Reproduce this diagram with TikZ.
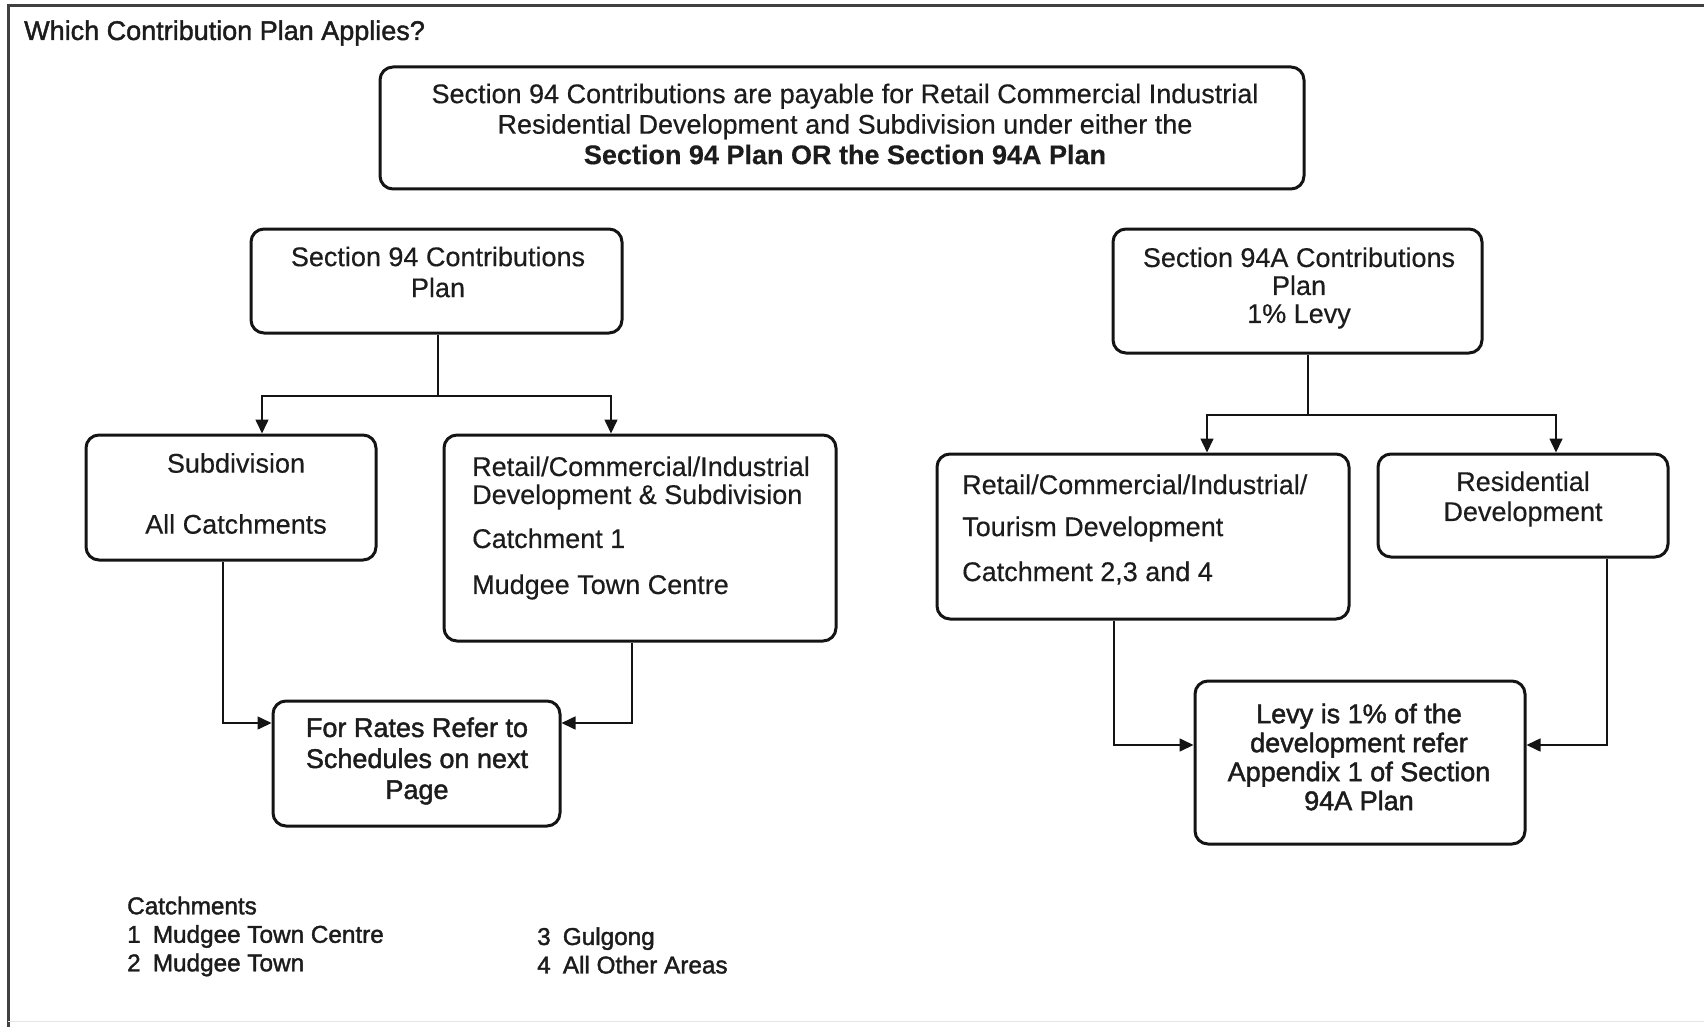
\documentclass[tikz,border=0pt]{standalone}
\usepackage{fontspec}
\setmainfont{Liberation Sans}[FakeBold=0.4]
\newfontfamily\medfont[FakeBold=1.6]{Liberation Sans}
\usetikzlibrary{arrows.meta}
\definecolor{ink}{HTML}{1C1C1C}
\tikzset{
  box/.style={draw=black!92, line width=3pt, rounded corners=13pt, inner sep=0pt, fill=white},
  txt/.style={inner sep=0pt, text=ink, font=\fontsize{27}{28}\selectfont},
  conn/.style={line width=1.6pt, draw=black!92},
  arr/.style={conn, -{Triangle[length=14pt,width=13pt]}},
}
\begin{document}
\begin{tikzpicture}[x=1pt,y=-1pt]
\useasboundingbox (0,0) rectangle (1704,1027);
% frame
\draw[line width=3pt, black!75] (8,1027) -- (8,6) -- (1704,6);
\draw[line width=1pt, black!10] (8,1021) -- (1704,1021);

\node[txt, anchor=west, font=\fontsize{27}{28}\medfont] (title) at (24,33) {Which Contribution Plan Applies?};

% boxes
\node[box, minimum width=924pt, minimum height=122pt] (top) at (842,128) {};
\node[box, minimum width=371pt, minimum height=104pt] (s94) at (436.5,281) {};
\node[box, minimum width=369pt, minimum height=124pt] (s94a) at (1297.5,291) {};
\node[box, minimum width=290pt, minimum height=125pt] (sub) at (231,497.5) {};
\node[box, minimum width=392pt, minimum height=206pt] (ret) at (640,538) {};
\node[box, minimum width=287pt, minimum height=125pt] (rates) at (416.5,763.5) {};
\node[box, minimum width=412pt, minimum height=165pt] (rt) at (1143,536.5) {};
\node[box, minimum width=290pt, minimum height=103pt] (res) at (1523,505.5) {};
\node[box, minimum width=330pt, minimum height=163pt] (levy) at (1360,762.5) {};

% texts
\node[txt, align=center, font=\fontsize{27}{30.5}\selectfont] (top-t) at (845,124)
  {Section 94 Contributions are payable for Retail Commercial Industrial\\
   Residential Development and Subdivision under either the\\
   \textbf{Section 94 Plan OR the Section 94A Plan}};
\node[txt, align=center, font=\fontsize{27}{31}\selectfont] (s94-t) at (438,272)
  {Section 94 Contributions\\Plan};
\node[txt, align=center] (s94a-t) at (1299,288)
  {Section 94A Contributions\\Plan\\1\% Levy};
\node[txt, align=center] (sub-t) at (236,493.5)
  {Subdivision\\[33pt]All Catchments};
\node[txt, align=left, anchor=west] (ret-t) at (472,528)
  {Retail/Commercial/Industrial\\Development \& Subdivision\\[16pt]Catchment 1\\[18pt]Mudgee Town Centre};
\node[txt, align=left, anchor=west] (rt-t) at (962,529.5)
  {Retail/Commercial/Industrial/\\[14pt]Tourism Development\\[17pt]Catchment 2,3 and 4};
\node[txt, align=center, font=\fontsize{27}{30}\selectfont] (res-t) at (1523,499)
  {Residential\\Development};
\node[txt, align=center, font=\fontsize{27}{31}\medfont] (rates-t) at (417,761)
  {For Rates Refer to\\Schedules on next\\Page};
\node[txt, align=center, font=\fontsize{27}{29}\medfont] (levy-t) at (1359,757)
  {Levy is 1\% of the\\development refer\\Appendix 1 of Section\\94A Plan};

% legend
\node[txt, align=left, anchor=west, font=\fontsize{24.3}{28.5}\medfont] (leg1) at (127,936.5)
  {Catchments\\1\enspace Mudgee Town Centre\\2\enspace Mudgee Town};
\node[txt, align=left, anchor=west, font=\fontsize{24.3}{28.5}\medfont] (leg2) at (537,950.5)
  {3\enspace Gulgong\\4\enspace All Other Areas};

% connectors left
\coordinate (b1l) at (262,396);
\coordinate (b1r) at (611,396);
\draw[arr] (s94.south -| 438,0) |- (b1l) -- (b1l |- sub.north);
\draw[arr] (s94.south -| 438,0) |- (b1r) -- (b1r |- ret.north);
\coordinate (k1) at (223,723);
\coordinate (k2) at (632,723);
\draw[arr] (k1 |- sub.south) -- (k1) -- (k1 -| rates.west);
\draw[arr] (k2 |- ret.south) -- (k2) -- (k2 -| rates.east);

% connectors right
\coordinate (b2l) at (1207,415);
\coordinate (b2r) at (1556,415);
\coordinate (t2) at (1308,415);
\draw[conn] (t2 |- s94a.south) -- (t2);
\draw[arr] (b2l -| t2) -- (b2l) -- (b2l |- rt.north);
\draw[arr] (b2r -| t2) -- (b2r) -- (b2r |- res.north);
\coordinate (k3) at (1114,745);
\coordinate (k4) at (1607,745);
\draw[arr] (k3 |- rt.south) -- (k3) -- (k3 -| levy.west);
\draw[arr] (k4 |- res.south) -- (k4) -- (k4 -| levy.east);
\end{tikzpicture}
\end{document}
